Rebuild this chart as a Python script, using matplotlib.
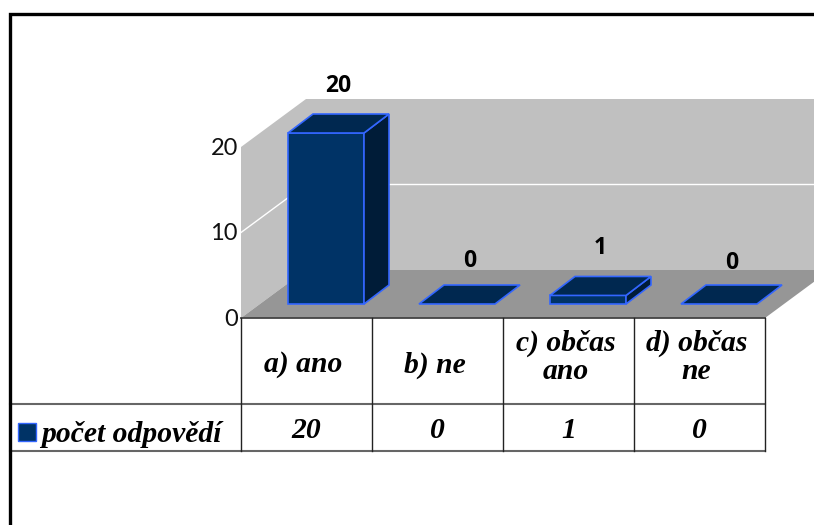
import matplotlib
matplotlib.use("Agg")
import matplotlib.pyplot as plt
from matplotlib.patches import Polygon

categories = ["a) ano", "b) ne", "c) občas\nano", "d) občas\nne"]
values = [20, 0, 1, 0]
series_name = "počet odpovědí"
y_ticks = [0, 10, 20]

# pixel geometry of the fake 3D chart
x0, y0 = 241, 318
cat_w = 131
unit = 8.55
wall_dx, wall_dy = 65, 48
bar_off, bar_w = 47, 76
bar_lift = 14
bar_dx, bar_dy = 25, 19
label_gap = [28, 24, 28, 22]

front = "#003366"
top = "#002850"
side = "#001c38"
edge = "#3366ff"
serif = {"family": "Liberation Serif", "weight": "bold", "style": "italic", "size": 21.3}

fig = plt.figure(figsize=(8.14, 5.25), dpi=100)
ax = fig.add_axes([0, 0, 1, 1])
ax.set_xlim(0, 814)
ax.set_ylim(525, 0)
ax.axis("off")


def val_y(v):
    return y0 - v * unit


right = x0 + cat_w * len(categories)
top_val = max(y_ticks)

# walls and floor
ax.add_patch(Polygon([(x0, val_y(top_val)), (x0 + wall_dx, val_y(top_val) - wall_dy),
                      (x0 + wall_dx, y0 - wall_dy), (x0, y0)], fc="#c0c0c0", ec="none", zorder=1))
ax.add_patch(Polygon([(x0 + wall_dx, val_y(top_val) - wall_dy), (right + wall_dx, val_y(top_val) - wall_dy),
                      (right + wall_dx, y0 - wall_dy), (x0 + wall_dx, y0 - wall_dy)],
                     fc="#c0c0c0", ec="none", zorder=1))
ax.add_patch(Polygon([(x0, y0), (x0 + wall_dx, y0 - wall_dy), (right + wall_dx, y0 - wall_dy), (right, y0)],
                     fc="#969696", ec="none", zorder=1))

# gridline
for t in y_ticks[1:-1]:
    ax.plot([x0, x0 + wall_dx, right + wall_dx], [val_y(t), val_y(t) - wall_dy, val_y(t) - wall_dy],
            color="white", lw=1, zorder=2)

for t in y_ticks:
    ax.text(x0 - 3, val_y(t) + 1.5, str(t), ha="right", va="center", fontsize=17,
            family="Lato", color="#111111")

# bars
for i, v in enumerate(values):
    xa = x0 + i * cat_w + bar_off
    xb = xa + bar_w
    yb = y0 - bar_lift
    yt = yb - v * unit
    if v > 0:
        ax.add_patch(Polygon([(xa, yb), (xb, yb), (xb, yt), (xa, yt)], fc=front, ec=edge, lw=1.2, zorder=3))
        ax.add_patch(Polygon([(xb, yb), (xb + bar_dx, yb - bar_dy), (xb + bar_dx, yt - bar_dy), (xb, yt)],
                             fc=side, ec=edge, lw=1.2, zorder=3))
    ax.add_patch(Polygon([(xa, yt), (xb, yt), (xb + bar_dx, yt - bar_dy), (xa + bar_dx, yt - bar_dy)],
                         fc=top, ec=edge, lw=1.2, zorder=3))
    ax.text((xa + xb + bar_dx) / 2, yt - bar_dy - label_gap[i], str(v), ha="center", va="center",
            fontsize=16.5, family="Open Sans", weight="bold", color="black", zorder=5)

# data table under the chart
row1, row2 = 404, 451
ax.plot([10, right], [row1, row1], color="#666666", lw=1.5, zorder=4)
ax.plot([10, right], [row2, row2], color="#666666", lw=1.5, zorder=4)
ax.plot([x0, right], [y0, y0], color="#444444", lw=1.3, zorder=4)
for i in range(len(categories) + 1):
    xl = x0 + i * cat_w
    ax.plot([xl, xl], [y0, row2], color="#222222", lw=1, zorder=4)

for i, (c, v) in enumerate(zip(categories, values)):
    xc = x0 + (i + 0.5) * cat_w
    shift = -4 if "\n" in c else 4
    ax.text(xc - 3, (y0 + row1) / 2 + shift, c, ha="center", va="center", linespacing=1.05, **serif)
    ax.text(xc, (row1 + row2) / 2 + 3, str(v), ha="center", va="center", **serif)

# legend key and name
ax.add_patch(Polygon([(18, 423), (36, 423), (36, 441), (18, 441)], fc=front, ec=edge, lw=1, zorder=4))
ax.text(41, 435, series_name, ha="left", va="center", **serif)

# outer frame
ax.plot([814, 10, 10], [14, 14, 525], color="black", lw=2.4, solid_joinstyle="miter", zorder=6)

fig.savefig("out.png", dpi=100)
